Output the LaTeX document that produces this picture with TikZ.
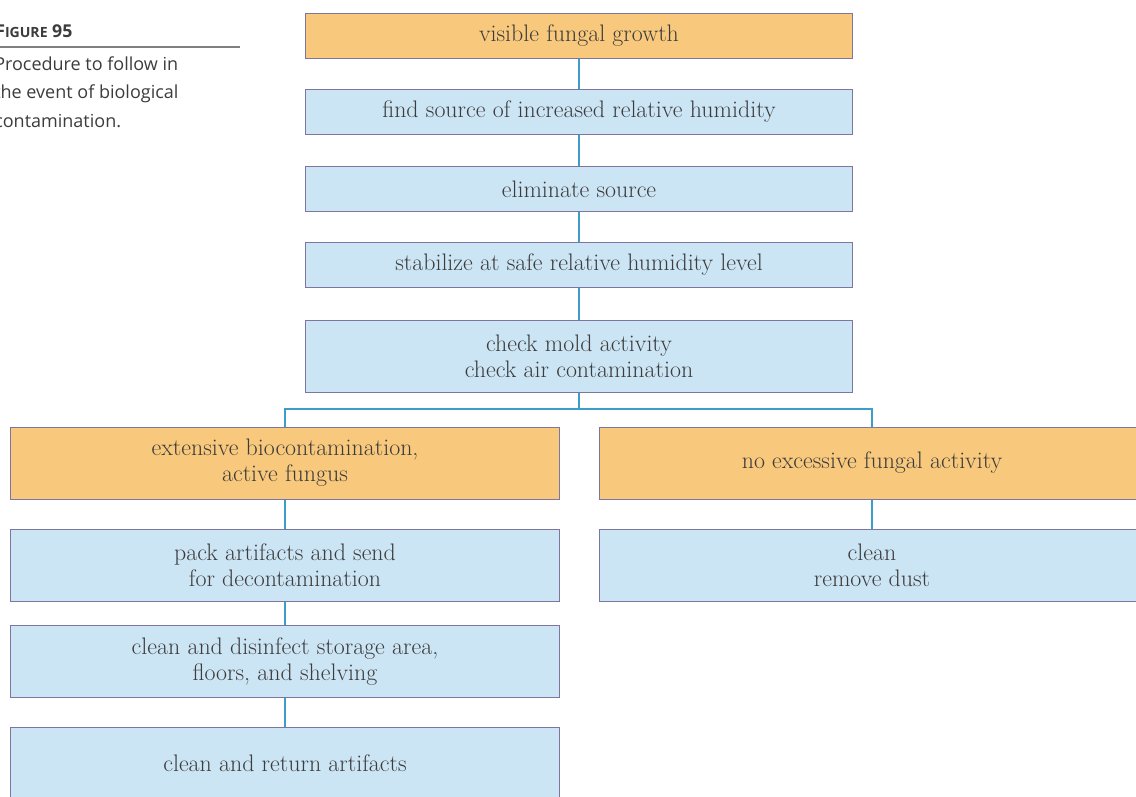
\documentclass[tikz,border=0pt]{standalone}
\usepackage{fontspec}
\newfontfamily\capfont{Open Sans}
\usetikzlibrary{positioning}
\definecolor{boxorange}{HTML}{F8C97C}
\definecolor{boxblue}{HTML}{CCE5F5}
\definecolor{boxline}{HTML}{7E75A0}
\definecolor{linkblue}{HTML}{3C9DC9}
\definecolor{inktext}{HTML}{3C3C3C}

\begin{document}
\begin{tikzpicture}[x=0.025cm,y=-0.025cm,
  box/.style={draw=boxline,line width=0.7pt,fill=boxblue,text=inktext,align=center,
    font=\fontsize{17}{18.5}\selectfont,inner sep=0pt},
  mid/.style={box,minimum width=13.675cm,minimum height=1.125cm},
  midtall/.style={box,minimum width=13.675cm,minimum height=1.8cm},
  lft/.style={box,minimum width=13.7cm,minimum height=1.8cm},
  rgt/.style={box,minimum width=13.6cm,minimum height=1.8cm},
  warn/.style={fill=boxorange},
  link/.style={draw=linkblue,line width=1.1pt}]
\useasboundingbox (0,0) rectangle (1136,796);

% caption
\node[anchor=base west,inner sep=0pt,text=inktext,
  font=\capfont\bfseries\fontsize{12.6}{14}\selectfont] (fig) at (-5,37)
  {F{\fontsize{10}{11}\selectfont IGURE} 95};
\draw[gray,line width=0.8pt] (-5,47) -- (240,47);
\node[anchor=north west,inner sep=0pt,align=left,text=inktext,
  font=\capfont\fontsize{12.8}{20.5}\selectfont] (cap) at (-6,56)
  {Procedure to follow in\\the event of biological\\contamination.};

% main column
\node[mid,warn] (growth) at (579,35.5) {visible fungal growth};
\node[mid] (source) at (579,112) {find source of increased relative humidity};
\node[mid] (elim) at (579,189) {eliminate source};
\node[mid] (stab) at (579,265) {stabilize at safe relative humidity level};
\node[midtall] (check) at (579,356) {check mold activity\\check air contamination};

% two branches
\node[lft,warn] (active) at (285,463) {extensive biocontamination,\\active fungus};
\node[rgt,warn] (noact) at (872,463) {no excessive fungal activity};
\node[lft] (pack) at (285,565) {pack artifacts and send\\for decontamination};
\node[rgt] (dust) at (872,565) {clean\\remove dust};
\node[lft] (disinf) at (285,661.5) {clean and disinfect storage area,\\floors, and shelving};
\node[lft] (ret) at (285,763) {clean and return artifacts};

\coordinate (split) at (579,409);

\draw[link] (growth) -- (source);
\draw[link] (source) -- (elim);
\draw[link] (elim) -- (stab);
\draw[link] (stab) -- (check);
\draw[link] (check) -- (split);
\draw[link] (split) -| (active);
\draw[link] (split) -| (noact);
\draw[link] (active) -- (pack);
\draw[link] (noact) -- (dust);
\draw[link] (pack) -- (disinf);
\draw[link] (disinf) -- (ret);
\end{tikzpicture}
\end{document}
